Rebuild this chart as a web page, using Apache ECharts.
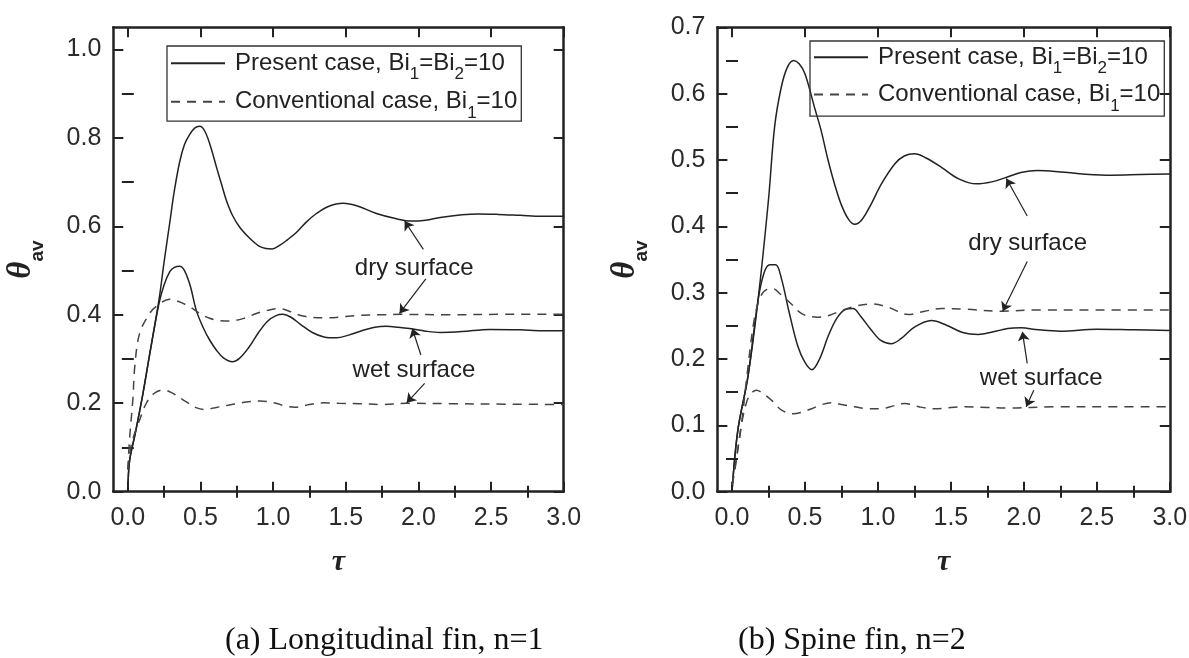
<!DOCTYPE html>
<html><head><meta charset="utf-8">
<script src="https://cdn.jsdelivr.net/npm/echarts@6/dist/echarts.min.js"></script>
<style>html,body{margin:0;padding:0;background:#fff}#c{width:1189px;height:658px}</style>
</head><body><div id="c"></div>
<script>
// ---------- data ----------
const xTicks = [0, 0.5, 1.0, 1.5, 2.0, 2.5, 3.0];
const xMinorTicks = [0.25, 0.75, 1.25, 1.75, 2.25, 2.75];
const yTicksLeft = [0, 0.2, 0.4, 0.6, 0.8, 1.0];
const yMinorTicksLeft = [0.1, 0.3, 0.5, 0.7, 0.9];
const yTicksRight = [0, 0.1, 0.2, 0.3, 0.4, 0.5, 0.6, 0.7];
const yMinorTicksRight = [0.05, 0.15, 0.25, 0.35, 0.45, 0.55, 0.65];
const legendNames = ['Present case, Bi1=Bi2=10', 'Conventional case, Bi1=10'];
const annotationTexts = ['dry surface', 'wet surface'];
const captions = ['(a) Longitudinal fin, n=1', '(b) Spine fin, n=2'];

// (a) Longitudinal fin
const tauLeftPresentDry = [0, 0.012, 0.05, 0.104, 0.15, 0.214, 0.25, 0.288, 0.32, 0.357, 0.39, 0.426, 0.46, 0.494, 0.53, 0.57, 0.609, 0.645, 0.678, 0.72, 0.77, 0.839, 0.9, 0.95, 0.993, 1.05, 1.1, 1.16, 1.23, 1.298, 1.38, 1.482, 1.58, 1.711, 1.849, 1.95, 2.05, 2.15, 2.3, 2.41, 2.55, 2.7, 2.85, 3.0];
const thetaLeftPresentDry = [0, 0.07, 0.13, 0.222, 0.31, 0.433, 0.52, 0.607, 0.68, 0.746, 0.785, 0.808, 0.822, 0.826, 0.815, 0.78, 0.735, 0.695, 0.659, 0.625, 0.598, 0.573, 0.556, 0.55, 0.549, 0.558, 0.57, 0.586, 0.61, 0.629, 0.645, 0.652, 0.646, 0.629, 0.617, 0.612, 0.614, 0.62, 0.626, 0.628, 0.627, 0.625, 0.623, 0.623];
const tauLeftPresentWet = [0, 0.012, 0.05, 0.104, 0.15, 0.214, 0.25, 0.29, 0.32, 0.357, 0.39, 0.43, 0.471, 0.52, 0.563, 0.61, 0.66, 0.72, 0.77, 0.83, 0.9, 0.96, 1.02, 1.068, 1.12, 1.19, 1.27, 1.35, 1.436, 1.52, 1.62, 1.7, 1.78, 1.86, 1.94, 2.05, 2.15, 2.3, 2.49, 2.7, 2.85, 3.0];
const thetaLeftPresentWet = [0, 0.07, 0.13, 0.222, 0.31, 0.425, 0.468, 0.498, 0.507, 0.51, 0.5, 0.465, 0.41, 0.37, 0.343, 0.32, 0.302, 0.294, 0.302, 0.325, 0.36, 0.385, 0.398, 0.401, 0.395, 0.378, 0.36, 0.35, 0.348, 0.354, 0.365, 0.372, 0.374, 0.372, 0.369, 0.363, 0.36, 0.362, 0.367, 0.366, 0.364, 0.364];
const tauLeftConvDry = [0, 0.012, 0.035, 0.047, 0.081, 0.15, 0.2, 0.288, 0.35, 0.426, 0.5, 0.563, 0.63, 0.7, 0.8, 0.885, 0.96, 1.045, 1.12, 1.206, 1.367, 1.5, 1.596, 1.75, 1.87, 2.2, 2.6, 3.0];
const thetaLeftConvDry = [0.05, 0.12, 0.21, 0.28, 0.358, 0.403, 0.42, 0.435, 0.43, 0.418, 0.402, 0.392, 0.387, 0.386, 0.392, 0.403, 0.41, 0.414, 0.407, 0.397, 0.393, 0.396, 0.399, 0.4, 0.401, 0.4, 0.401, 0.401];
const tauLeftConvWet = [0, 0.02, 0.05, 0.081, 0.127, 0.18, 0.242, 0.3, 0.403, 0.47, 0.529, 0.6, 0.7, 0.8, 0.908, 1.02, 1.08, 1.149, 1.25, 1.344, 1.45, 1.596, 1.75, 1.92, 2.2, 2.6, 3.0];
const thetaLeftConvWet = [0.05, 0.1, 0.135, 0.162, 0.2, 0.222, 0.23, 0.224, 0.203, 0.19, 0.186, 0.19, 0.196, 0.202, 0.205, 0.2, 0.194, 0.191, 0.197, 0.201, 0.2, 0.199, 0.197, 0.2, 0.199, 0.198, 0.197];

// (b) Spine fin
const tauRightPresentDry = [0, 0.04, 0.109, 0.178, 0.25, 0.292, 0.338, 0.38, 0.4225, 0.46, 0.5, 0.567, 0.61, 0.658, 0.705, 0.75, 0.8, 0.841, 0.89, 0.95, 1.024, 1.115, 1.18, 1.252, 1.33, 1.435, 1.55, 1.675, 1.78, 1.87, 1.98, 2.095, 2.25, 2.4, 2.6, 2.8, 3.0];
const thetaRightPresentDry = [0, 0.0925, 0.173, 0.288, 0.44, 0.55, 0.61, 0.64, 0.65, 0.645, 0.63, 0.578, 0.545, 0.5, 0.462, 0.432, 0.41, 0.403, 0.41, 0.432, 0.464, 0.494, 0.506, 0.5095, 0.503, 0.489, 0.472, 0.464, 0.467, 0.473, 0.481, 0.484, 0.482, 0.479, 0.477, 0.478, 0.479];
const tauRightPresentWet = [0, 0.04, 0.109, 0.178, 0.22, 0.26, 0.3, 0.34, 0.39, 0.45, 0.5, 0.548, 0.6, 0.66, 0.72, 0.78, 0.829, 0.88, 0.95, 1.02, 1.092, 1.16, 1.25, 1.367, 1.47, 1.58, 1.687, 1.79, 1.89, 1.98, 2.1, 2.25, 2.5, 2.75, 3.0];
const thetaRightPresentWet = [0, 0.0925, 0.173, 0.288, 0.33, 0.342, 0.342, 0.32, 0.272, 0.22, 0.195, 0.184, 0.2, 0.235, 0.262, 0.275, 0.276, 0.265, 0.245, 0.228, 0.223, 0.231, 0.248, 0.258, 0.251, 0.24, 0.237, 0.241, 0.246, 0.247, 0.244, 0.242, 0.245, 0.244, 0.243];
const tauRightConvDry = [0, 0.018, 0.064, 0.1, 0.155, 0.2, 0.24, 0.281, 0.33, 0.407, 0.48, 0.589, 0.67, 0.75, 0.85, 0.955, 1.07, 1.207, 1.32, 1.435, 1.6, 1.847, 2.1, 2.5, 3.0];
const thetaRightConvDry = [0.01, 0.033, 0.1, 0.17, 0.263, 0.296, 0.305, 0.306, 0.298, 0.283, 0.268, 0.263, 0.266, 0.273, 0.28, 0.283, 0.278, 0.267, 0.272, 0.276, 0.275, 0.272, 0.274, 0.274, 0.274];
const tauRightConvWet = [0, 0.018, 0.064, 0.1, 0.13, 0.167, 0.22, 0.27, 0.34, 0.418, 0.48, 0.545, 0.61, 0.681, 0.76, 0.84, 0.93, 1.024, 1.1, 1.184, 1.28, 1.39, 1.5, 1.6, 1.75, 1.89, 2.2, 2.6, 3.0];
const thetaRightConvWet = [0.01, 0.03, 0.1, 0.135, 0.148, 0.153, 0.147, 0.138, 0.123, 0.1176, 0.12, 0.125, 0.131, 0.134, 0.131, 0.128, 0.125, 0.125, 0.129, 0.133, 0.128, 0.125, 0.127, 0.128, 0.127, 0.126, 0.128, 0.128, 0.128];

// ---------- helpers ----------
const SANS = 'Liberation Sans';
const SERIF = 'Liberation Serif';
const INK = '#222';
const pairs = (t, v) => t.map((x, i) => [x, v[i]]);

function xAxes(g) {
  const base = {gridIndex: g, type: 'value', min: -0.1, max: 3.0, splitLine: {show: false}};
  const tick = (vals, len) => ({show: true, inside: true, length: len, customValues: vals, lineStyle: {color: INK, width: 2}});
  return [
    Object.assign({}, base, {position: 'bottom',
      axisLine: {show: true, onZero: false, lineStyle: {color: INK, width: 2.5}},
      axisTick: tick(xTicks, 10),
      axisLabel: {show: true, customValues: xTicks, formatter: v => v.toFixed(1), fontFamily: SANS, fontSize: 25, color: '#2b2b2b', margin: 14},
      name: 'τ', nameLocation: 'middle', nameGap: 56,
      nameTextStyle: {fontFamily: SERIF, fontStyle: 'italic', fontWeight: 'bold', fontSize: 30, color: INK}}),
    Object.assign({}, base, {position: 'bottom', axisLine: {show: false}, axisTick: tick(xMinorTicks, 6), axisLabel: {show: false}}),
    Object.assign({}, base, {position: 'top', axisLine: {show: true, onZero: false, lineStyle: {color: INK, width: 2.5}}, axisTick: tick(xTicks, 10), axisLabel: {show: false}}),
    Object.assign({}, base, {position: 'top', axisLine: {show: false}, axisTick: tick(xMinorTicks, 6), axisLabel: {show: false}})
  ];
}
function yAxes(g, yMax, major, minor) {
  const base = {gridIndex: g, type: 'value', min: 0, max: yMax, splitLine: {show: false}};
  const tick = (vals, len) => ({show: true, inside: true, length: len, customValues: vals, lineStyle: {color: INK, width: 2}});
  return [
    Object.assign({}, base, {position: 'left',
      axisLine: {show: true, onZero: false, lineStyle: {color: INK, width: 2.5}},
      axisTick: tick(major, 10),
      axisLabel: {show: true, customValues: major, formatter: v => v.toFixed(1), fontFamily: SANS, fontSize: 25, color: '#2b2b2b', margin: 12},
      name: '{t|θ}{s|av}', nameLocation: 'middle', nameGap: 66,
      nameTextStyle: {rich: {
        t: {fontFamily: SERIF, fontStyle: 'italic', fontWeight: 'bold', fontSize: 33, lineHeight: 52, verticalAlign: 'middle', color: INK},
        s: {fontFamily: SANS, fontWeight: 'bold', fontSize: 19, lineHeight: 19, verticalAlign: 'bottom', color: INK}}}}),
    Object.assign({}, base, {position: 'left', axisLine: {show: false}, axisTick: tick(minor, 6), axisLabel: {show: false}}),
    Object.assign({}, base, {position: 'right', axisLine: {show: true, onZero: false, lineStyle: {color: INK, width: 2.5}}, axisTick: tick(major, 10), axisLabel: {show: false}}),
    Object.assign({}, base, {position: 'right', axisLine: {show: false}, axisTick: tick(minor, 6), axisLabel: {show: false}})
  ];
}
const solid = {color: INK, width: 1.5, type: 'solid'};
const dashed = {color: '#444', width: 1.5, type: [9, 7]};
function curve(name, axisIdx, t, v, style, extra) {
  return Object.assign({
    type: 'line', name: name, xAxisIndex: axisIdx, yAxisIndex: axisIdx,
    data: pairs(t, v), showSymbol: false, symbol: 'none', smooth: 0.35,
    lineStyle: style, itemStyle: {color: style.color}, silent: true, z: 3
  }, extra || {});
}
function arrows(list) {
  return {
    silent: true, symbol: ['none', 'arrow'], symbolSize: 9, precision: 4,
    lineStyle: {color: INK, width: 1.2, type: 'solid'}, label: {show: false},
    data: list.map(a => [{coord: [a[0], a[1]]}, {coord: [a[2], a[3]]}])
  };
}
function notes(list) {
  return {
    silent: true, symbol: 'circle', symbolSize: 1, itemStyle: {color: 'rgba(0,0,0,0)'},
    label: {show: true, position: 'inside', formatter: '{b}', fontFamily: SANS, fontSize: 24, color: INK},
    data: list.map(n => ({name: n[0], coord: [n[1], n[2]]}))
  };
}
function legendFmt(name) {
  return '{f|' + name.replace(/Bi(\d)/g, 'Bi}{s|$1}{m|') + '}';
}
function legend(left, top, gap, padding) {
  return {
    orient: 'vertical', left: left, top: top, itemWidth: 54, itemHeight: 14, itemGap: gap,
    padding: padding, borderColor: '#333', borderWidth: 1.3,
    selectedMode: false, data: legendNames, formatter: legendFmt,
    lineStyle: {width: 2}, itemStyle: {opacity: 0},
    textStyle: {fontFamily: SANS, fontSize: 24, color: INK, rich: {
      f: {fontFamily: SANS, fontSize: 24, lineHeight: 40, verticalAlign: 'middle', color: INK, padding: [0, 0, 0, 5]},
      m: {fontFamily: SANS, fontSize: 24, lineHeight: 40, verticalAlign: 'middle', color: INK},
      s: {fontFamily: SANS, fontSize: 17, lineHeight: 17, verticalAlign: 'bottom', color: INK}}}
  };
}

const option = {
  animation: false,
  backgroundColor: '#fff',
  grid: [
    {left: 113.3, top: 27.3, width: 450.4, height: 464.4, containLabel: false, outerBoundsMode: 'none'},
    {left: 717.4, top: 27.3, width: 452.4, height: 464.4, containLabel: false, outerBoundsMode: 'none'}
  ],
  xAxis: xAxes(0).concat(xAxes(1)),
  yAxis: yAxes(0, 1.05, yTicksLeft, yMinorTicksLeft).concat(yAxes(1, 0.7, yTicksRight, yMinorTicksRight)),
  legend: [legend(167, 46, 6.5, [5.3, 4, -0.6, 3]), legend(810, 41, 5.2, [4.3, 4, 1.6, 3])],
  series: [
    curve(legendNames[0], 0, tauLeftPresentDry, thetaLeftPresentDry, solid, {
      markLine: arrows([[2.034, 0.548, 1.905, 0.612], [2.051, 0.481, 1.87, 0.403], [2.017, 0.309, 1.958, 0.369], [2.043, 0.245, 1.919, 0.201]]),
      markPoint: notes([[annotationTexts[0], 1.971, 0.505], [annotationTexts[1], 1.969, 0.275]])
    }),
    curve(legendNames[0], 0, tauLeftPresentWet, thetaLeftPresentWet, solid),
    curve(legendNames[1], 0, tauLeftConvDry, thetaLeftConvDry, dashed),
    curve(legendNames[1], 0, tauLeftConvWet, thetaLeftConvWet, dashed),
    curve(legendNames[0], 4, tauRightPresentDry, thetaRightPresentDry, solid, {
      markLine: arrows([[2.023, 0.4156, 1.88, 0.472], [2.023, 0.347, 1.855, 0.272], [2.023, 0.1935, 1.99, 0.241], [2.068, 0.153, 2.016, 0.128]]),
      markPoint: notes([[annotationTexts[0], 2.026, 0.375], [annotationTexts[1], 2.119, 0.171]])
    }),
    curve(legendNames[0], 4, tauRightPresentWet, thetaRightPresentWet, solid),
    curve(legendNames[1], 4, tauRightConvDry, thetaRightConvDry, dashed),
    curve(legendNames[1], 4, tauRightConvWet, thetaRightConvWet, dashed)
  ],
  graphic: [
    {type: 'text', left: 225, top: 625, style: {text: captions[0], font: '32px "Liberation Serif"', fill: '#111'}},
    {type: 'text', left: 738, top: 625, style: {text: captions[1], font: '32px "Liberation Serif"', fill: '#111'}}
  ]
};
const chart = echarts.init(document.getElementById('c'), null, {renderer: 'canvas'});
chart.setOption(option);
</script></body></html>
